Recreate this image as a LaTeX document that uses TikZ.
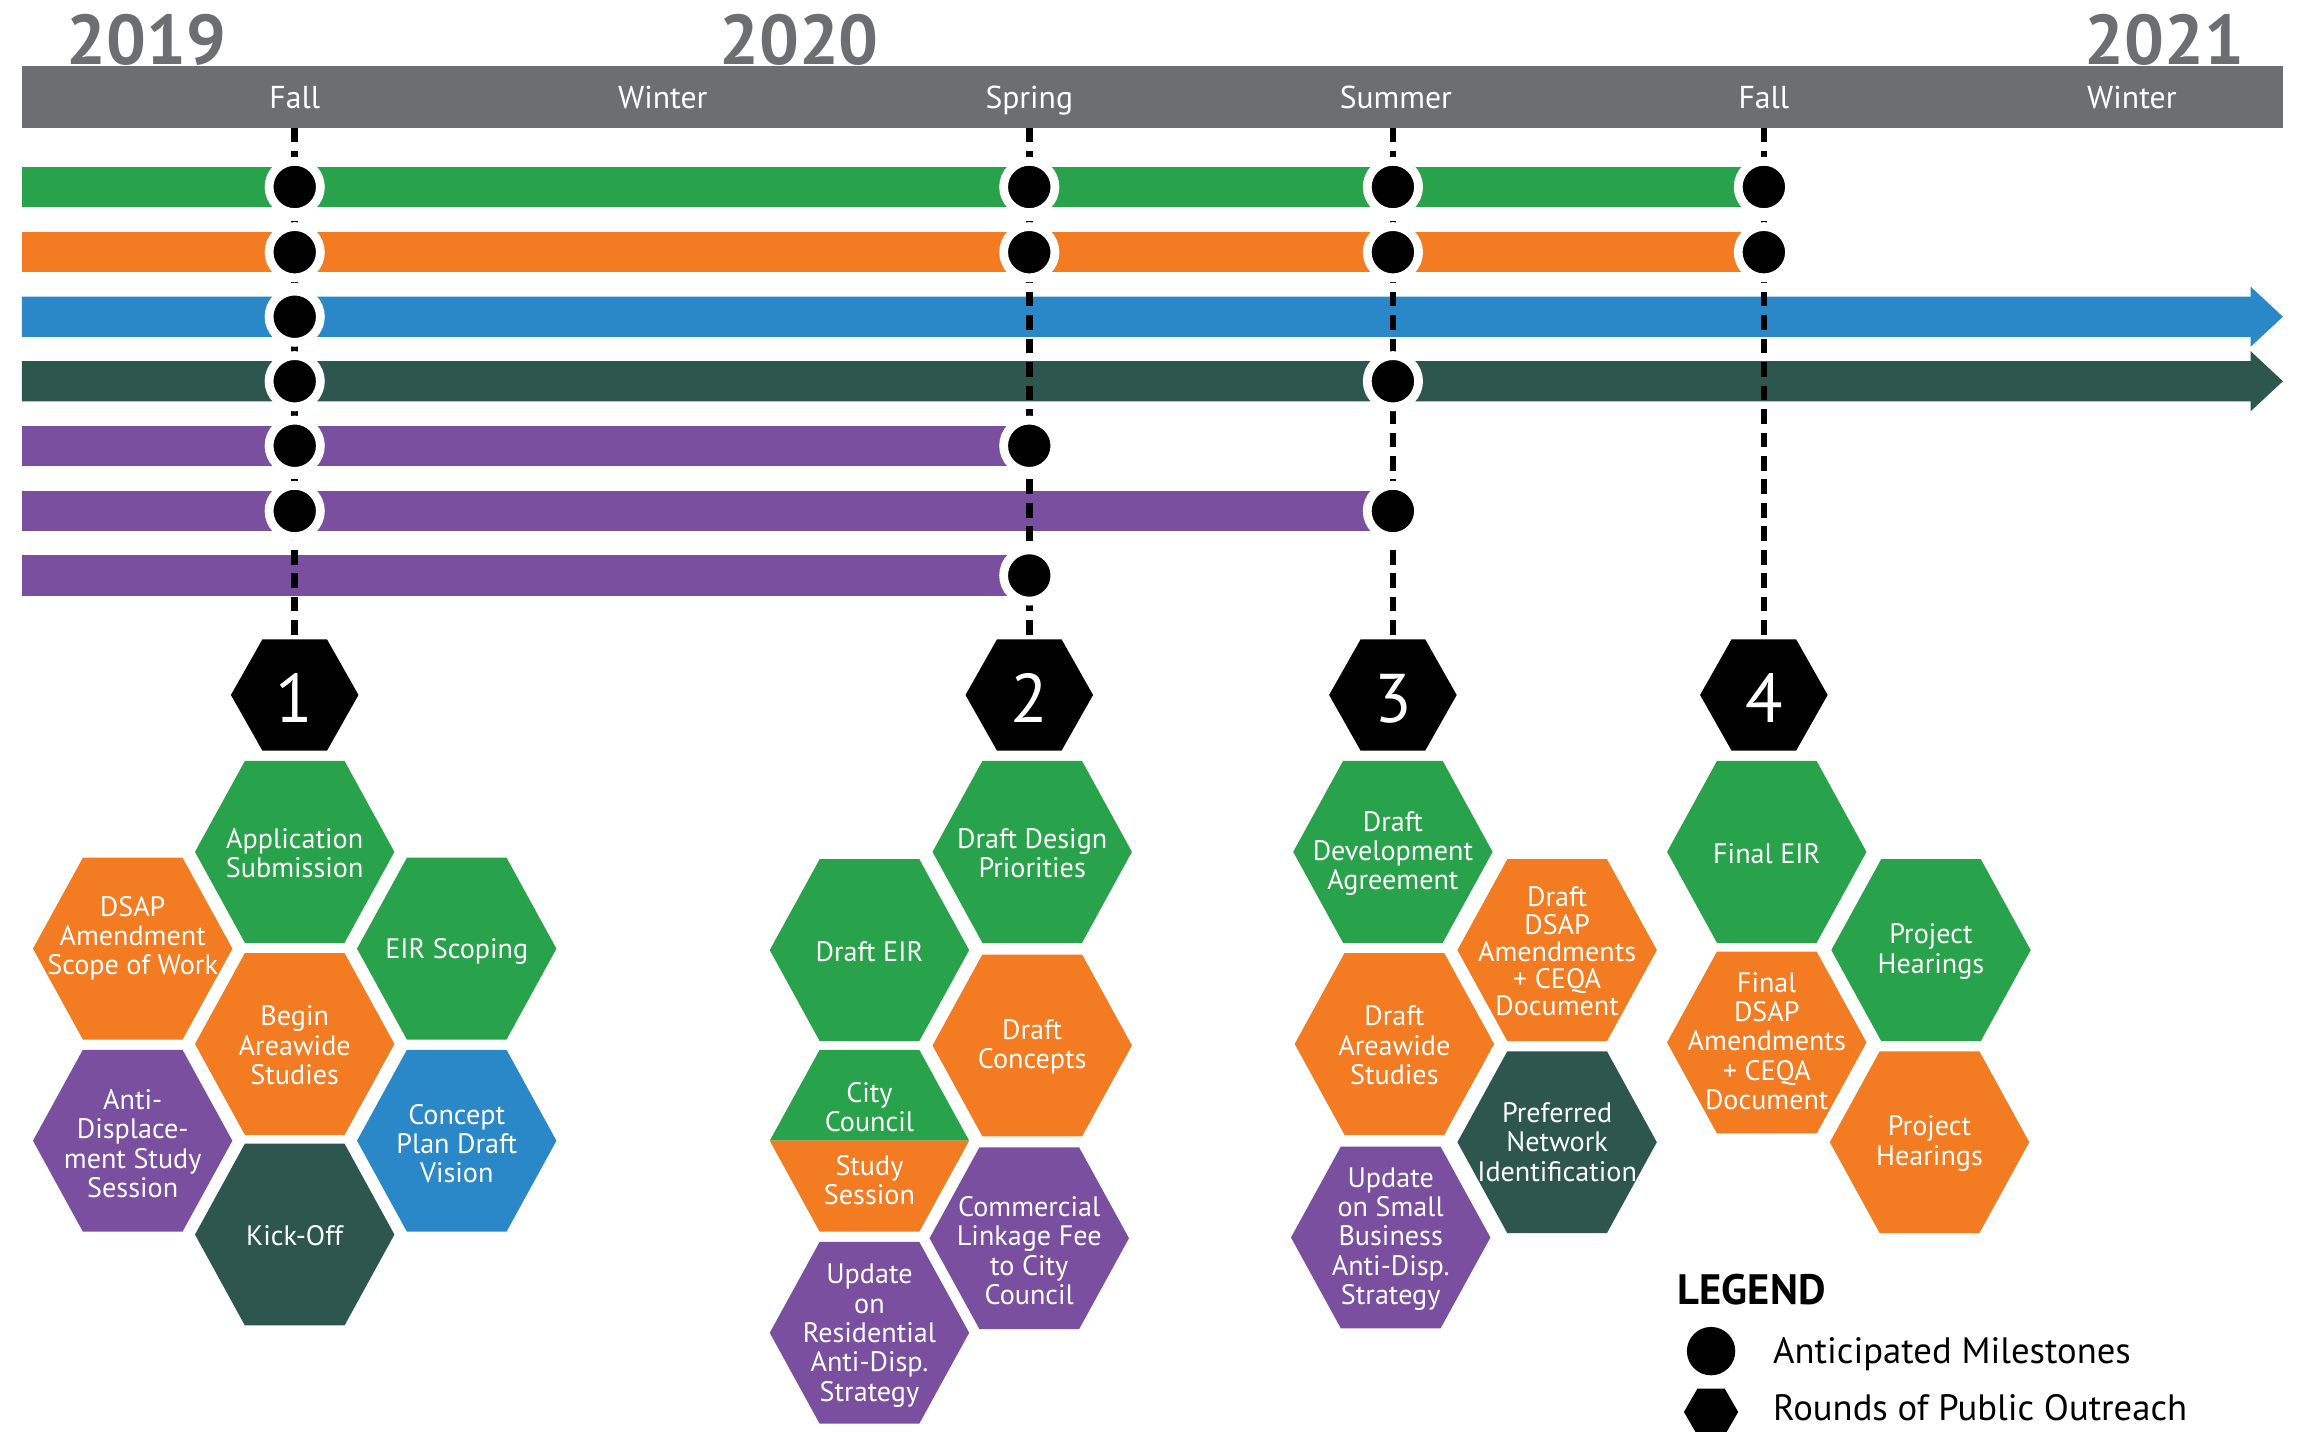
\documentclass[tikz,border=0pt]{standalone}
\usepackage{fontspec}
\setmainfont{PT Sans}
\definecolor{cgreen}{HTML}{29A34B}
\definecolor{corange}{HTML}{F37B22}
\definecolor{cblue}{HTML}{2A88C8}
\definecolor{cdkgreen}{HTML}{2D574E}
\definecolor{cpurple}{HTML}{7A4F9F}
\definecolor{cgray}{HTML}{6D6E71}
\newcommand{\hexfill}[3]{\fill[#3] (#1,#2) ++(-68,0) -- ++(34,-62) -- ++(68,0) -- ++(34,62) -- ++(-34,62) -- ++(-68,0) -- cycle;}
\newcommand{\numhex}[2]{\fill[black] (#1,#2) ++(-43.5,0) -- ++(21.5,-38) -- ++(44,0) -- ++(21.5,38) -- ++(-21.5,38) -- ++(-44,0) -- cycle;}
\tikzset{
 season/.style={text=white, font=\fontsize{10.8pt}{11pt}\selectfont, anchor=base, inner sep=0},
 yearlbl/.style={text=cgray, font=\fontsize{24pt}{24pt}\selectfont\bfseries, anchor=base, inner sep=0},
 msdot/.style={circle, fill=black, draw=white, line width=3pt, minimum size=17.5pt, inner sep=0},
 vdash/.style={line width=2.2pt, dash pattern=on 5pt off 3pt, black},
 htxt/.style={text=white, align=center, font=\fontsize{9.6pt}{10pt}\selectfont, inner sep=0},
 numtxt/.style={text=white, font=\fontsize{23.5pt}{23.5pt}\selectfont, anchor=base, inner sep=0},
 legtxt/.style={text=black, font=\fontsize{12.5pt}{13pt}\selectfont, anchor=base west, inner sep=0},
}
\begin{document}
\begin{tikzpicture}[x=0.5pt,y=-0.5pt]
\useasboundingbox (0,0) rectangle (1568,976);
\fill[white] (0,0) rectangle (1568,976);

% years
\node[yearlbl] (y2019) at (100,44) {2019};
\node[yearlbl] (y2020) at (545,44) {2020};
\node[yearlbl] (y2021) at (1476,44) {2021};

% header bar
\fill[cgray] (15,45) rectangle (1557,87);
\node[season] (sfall1) at (201,74) {Fall};
\node[season] (swin1) at (452,74) {Winter};
\node[season] (sspr) at (702,74) {Spring};
\node[season] (ssum) at (952,74) {Summer};
\node[season] (sfall2) at (1203,74) {Fall};
\node[season] (swin2) at (1454,74) {Winter};

% bars
\fill[cgreen] (15,113.75) rectangle (1203,141.25);
\fill[corange] (15,158.25) rectangle (1203,185.75);
\fill[cblue] (15,202.25) -- (1535,202.25) -- (1535,195.5) -- (1557,216) -- (1535,236.5) -- (1535,229.75) -- (15,229.75) -- cycle;
\fill[cdkgreen] (15,246.25) -- (1535,246.25) -- (1535,239.5) -- (1557,260) -- (1535,280.5) -- (1535,273.75) -- (15,273.75) -- cycle;
\fill[cpurple] (15,290.25) rectangle (702,317.75);
\fill[cpurple] (15,334.75) rectangle (950,362.25);
\fill[cpurple] (15,378.75) rectangle (702,406.25);

% dashed milestone lines
\coordinate (t1) at (201,87);
\coordinate (t2) at (702,87);
\coordinate (t3) at (950,87);
\coordinate (t4) at (1203,87);
\coordinate (ht1) at (201,437);
\coordinate (ht2) at (702,437);
\coordinate (ht3) at (950,437);
\coordinate (ht4) at (1203,437);
\draw[vdash] (t1) -- (ht1);
\draw[vdash] (t2) -- (ht2);
\draw[vdash] (t3) -- (ht3);
\draw[vdash] (t4) -- (ht4);

% milestone dots
\node[msdot] (d1a) at (201,127.5) {};
\node[msdot] (d1b) at (201,172) {};
\node[msdot] (d1c) at (201,216) {};
\node[msdot] (d1d) at (201,260) {};
\node[msdot] (d1e) at (201,304) {};
\node[msdot] (d1f) at (201,348.5) {};
\node[msdot] (d2a) at (702,127.5) {};
\node[msdot] (d2b) at (702,172) {};
\node[msdot] (d2e) at (702,304) {};
\node[msdot] (d2g) at (702,392.5) {};
\node[msdot] (d3a) at (950,127.5) {};
\node[msdot] (d3b) at (950,172) {};
\node[msdot] (d3d) at (950,260) {};
\node[msdot] (d3f) at (950,348.5) {};
\node[msdot] (d4a) at (1203,127.5) {};
\node[msdot] (d4b) at (1203,172) {};

% number hexagons
\numhex{201}{474}\node[numtxt] (n1) at (201,492.5) {1};
\numhex{702}{474}\node[numtxt] (n2) at (702,492.5) {2};
\numhex{950}{474}\node[numtxt] (n3) at (950,492.5) {3};
\numhex{1203}{474}\node[numtxt] (n4) at (1203,492.5) {4};

% cluster 1
\hexfill{201}{581}{cgreen}\node[htxt] (app) at (201,582) {Application\\Submission};
\hexfill{90.5}{647}{corange}\node[htxt] (dsapa) at (90.5,640) {DSAP\\Amendment\\Scope of Work};
\hexfill{311.5}{647}{cgreen}\node[htxt] (eirs) at (311.5,649) {EIR Scoping};
\hexfill{201}{712}{corange}\node[htxt] (baws) at (201,713) {Begin\\Areawide\\Studies};
\hexfill{90.5}{778}{cpurple}\node[htxt] (antid) at (90.5,780) {Anti-\\Displace-\\ment Study\\Session};
\hexfill{311.5}{778}{cblue}\node[htxt] (cpdv) at (311.5,780) {Concept\\Plan Draft\\Vision};
\hexfill{201}{842}{cdkgreen}\node[htxt] (kick) at (201,843) {Kick-Off};

% cluster 2
\hexfill{704}{581}{cgreen}\node[htxt] (ddp) at (704,582) {Draft Design\\Priorities};
\hexfill{593}{648}{cgreen}\node[htxt] (deir) at (593,649) {Draft EIR};
\hexfill{704}{713}{corange}\node[htxt] (dconc) at (704,714) {Draft\\Concepts};
\fill[cgreen] (593,778) ++(-68,0) -- ++(34,-62) -- ++(68,0) -- ++(34,62) -- cycle;
\fill[corange] (593,778) ++(-68,0) -- ++(34,62) -- ++(68,0) -- ++(34,-62) -- cycle;
\node[htxt] (ccouncil) at (593,755) {City\\Council};
\node[htxt] (ssession) at (593,805) {Study\\Session};
\hexfill{702}{844.5}{cpurple}\node[htxt] (clf) at (702,853) {Commercial\\Linkage Fee\\to City\\Council};
\hexfill{593}{909}{cpurple}\node[htxt] (upres) at (593,911) {Update\\on\\Residential\\Anti-Disp.\\Strategy};

% cluster 3
\hexfill{950}{581}{cgreen}\node[htxt] (dda) at (950,582) {Draft\\Development\\Agreement};
\hexfill{1062}{648}{corange}\node[htxt, font=\fontsize{9.6pt}{9.3pt}\selectfont] (ddsap) at (1062,649) {Draft\\DSAP\\Amendments\\+ CEQA\\Document};
\hexfill{951}{712}{corange}\node[htxt] (das) at (951,713) {Draft\\Areawide\\Studies};
\hexfill{1062}{779}{cdkgreen}\node[htxt] (pni) at (1062,779) {Preferred\\Network\\Identification};
\hexfill{948.5}{844}{cpurple}\node[htxt] (usb) at (948.5,845) {Update\\on Small\\Business\\Anti-Disp.\\Strategy};

% cluster 4
\hexfill{1205}{581}{cgreen}\node[htxt] (feir) at (1205,582) {Final EIR};
\hexfill{1317}{648}{cgreen}\node[htxt] (ph1) at (1317,649) {Project\\Hearings};
\hexfill{1205}{711}{corange}\node[htxt] (fdsap) at (1205,710) {Final\\DSAP\\Amendments\\+ CEQA\\Document};
\hexfill{1316}{779}{corange}\node[htxt] (ph2) at (1316,780) {Project\\Hearings};

% legend
\node[text=black, font=\fontsize{14.5pt}{15pt}\selectfont\bfseries, anchor=base west, inner sep=0] (legend) at (1144,890) {LEGEND};
\node[circle, fill=black, minimum size=16.5pt, inner sep=0] (legdot) at (1167,921.5) {};
\node[legtxt] (legms) at (1209,930) {Anticipated Milestones};
\fill[black] (1167,963) ++(-18.5,0) -- ++(9.25,-16) -- ++(18.5,0) -- ++(9.25,16) -- ++(-9.25,16) -- ++(-18.5,0) -- cycle;
\coordinate (leghex) at (1167,963);
\node[legtxt] (legpo) at (1209,969) {Rounds of Public Outreach};
\end{tikzpicture}
\end{document}
